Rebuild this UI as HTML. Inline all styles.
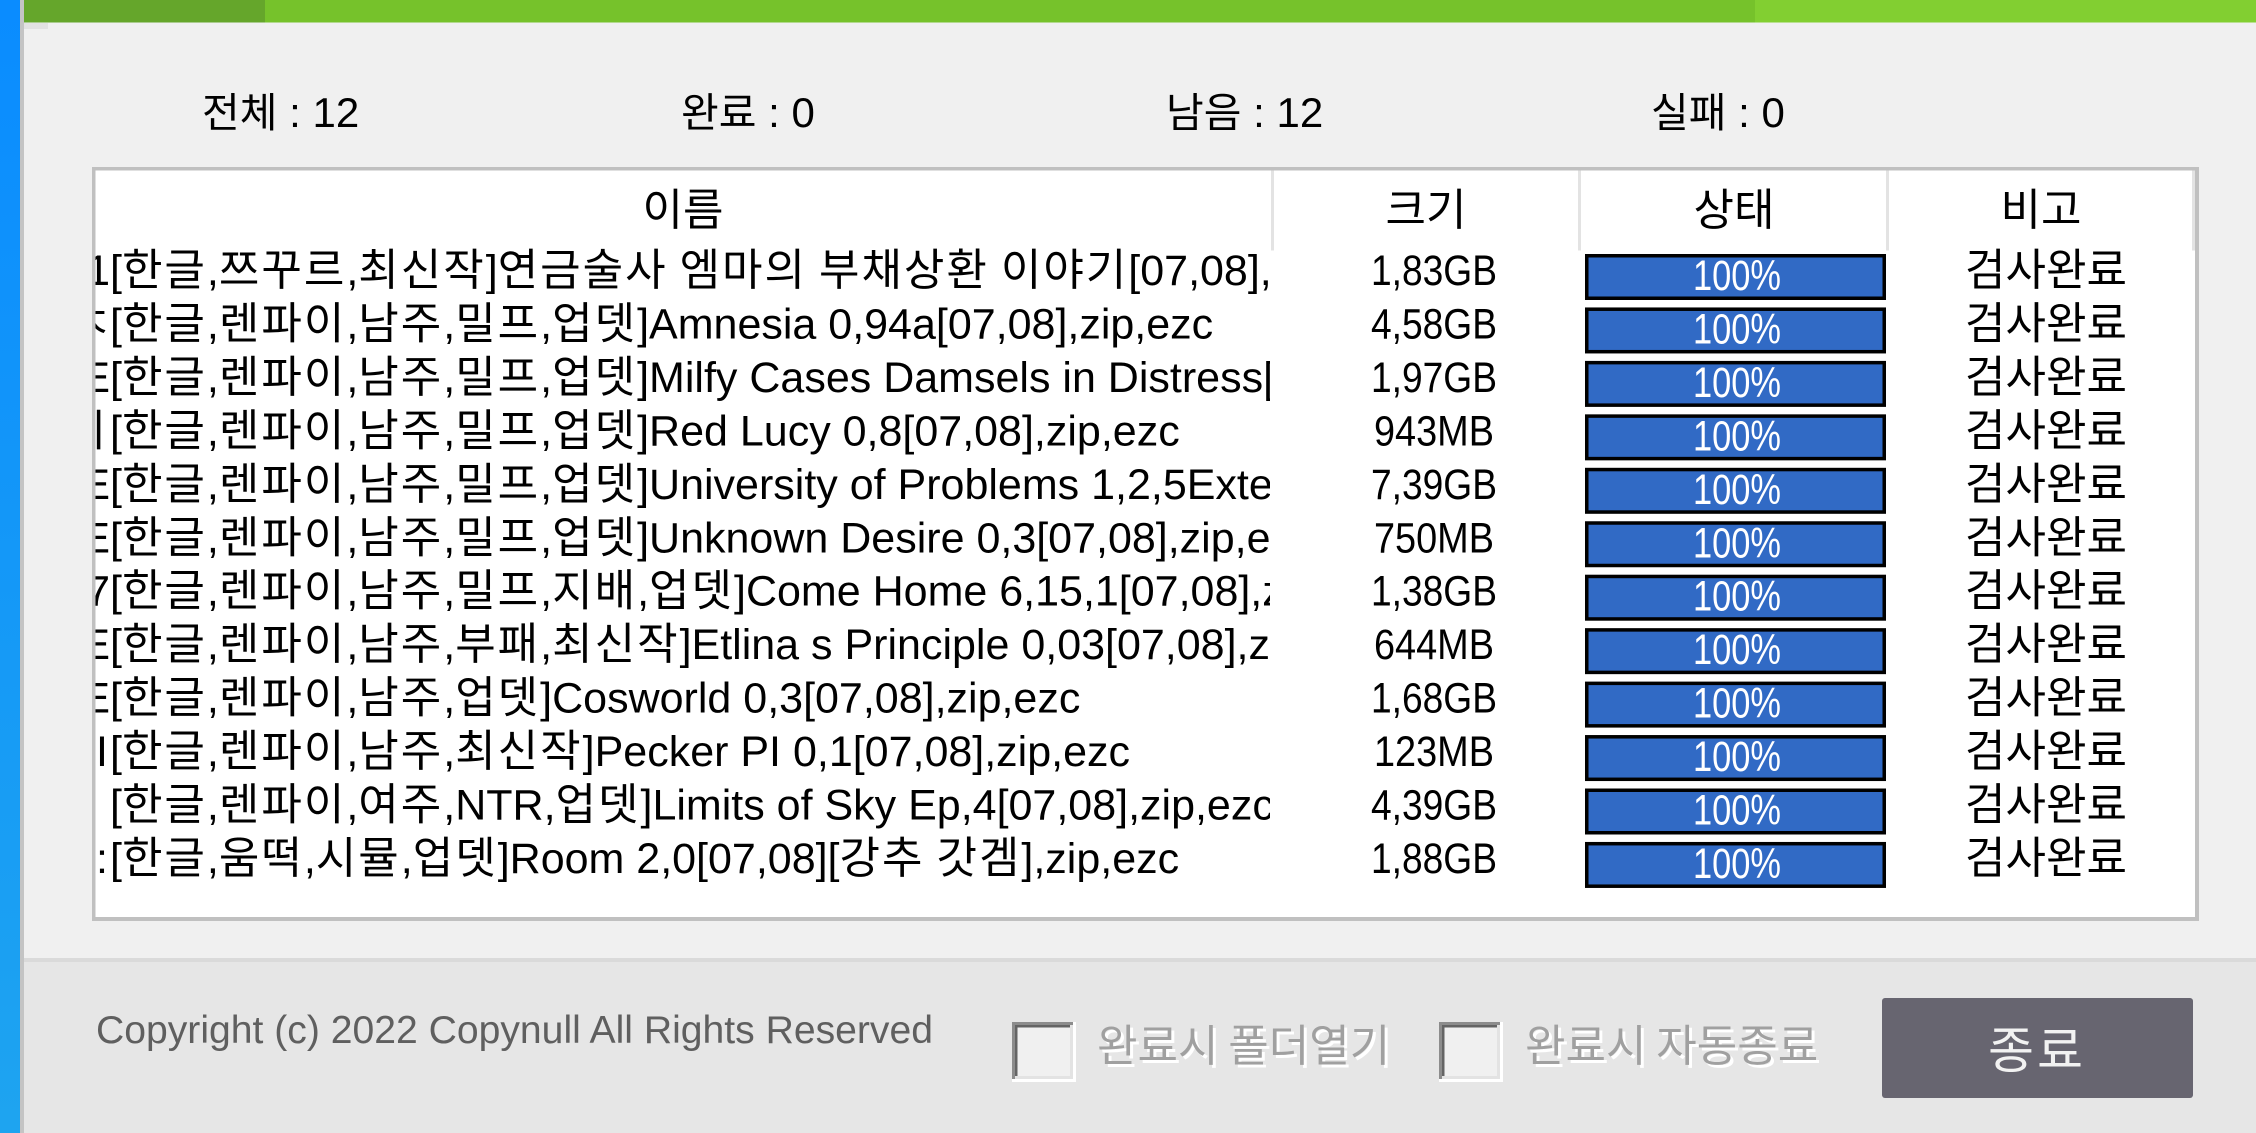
<!DOCTYPE html>
<html><head><meta charset="utf-8">
<style>
html,body{margin:0;padding:0;width:2256px;height:1133px;overflow:hidden;background:#f0f0f0}
svg{display:block}
.k{font-family:"Noto Sans CJK KR","NanumGothic","WenQuanYi Zen Hei",sans-serif;font-size:44px}
.l{font-family:"Liberation Sans",sans-serif;font-size:43px}
.s{font-family:"Liberation Sans","Noto Sans CJK KR",sans-serif;font-size:42px}
#names .k{letter-spacing:2px}
</style></head><body>
<svg width="2256" height="1133" viewBox="0 0 2256 1133" xmlns="http://www.w3.org/2000/svg">
<defs>
<linearGradient id="bl" x1="0" y1="0" x2="0" y2="1"><stop offset="0" stop-color="#0a8cff"/><stop offset="1" stop-color="#1ea4f0"/></linearGradient>
<clipPath id="nc"><rect x="95.5" y="170" width="1174.5" height="747"/></clipPath>
</defs>
<rect width="2256" height="1133" fill="#f0f0f0"/>
<rect x="0" y="0" width="20" height="1133" fill="url(#bl)"/>
<rect x="20" y="0" width="4" height="1133" fill="#c4c4c4"/>
<rect x="24" y="0" width="241" height="22.5" fill="#65a62b"/>
<rect x="265" y="0" width="1490" height="22.5" fill="#76c22b"/>
<rect x="1755" y="0" width="501" height="22.5" fill="#82cf31"/>
<rect x="24" y="23" width="24" height="6" fill="#e2e2e2"/>

<!-- stats -->
<text y="127" fill="#000"><tspan x="202" class="k" style="font-size:41px">전체</tspan><tspan class="s"> : 12</tspan></text>
<text y="127" fill="#000"><tspan x="681" class="k" style="font-size:41px">완료</tspan><tspan class="s"> : 0</tspan></text>
<text y="127" fill="#000"><tspan x="1166" class="k" style="font-size:41px">남음</tspan><tspan class="s"> : 12</tspan></text>
<text y="127" fill="#000"><tspan x="1651" class="k" style="font-size:41px">실패</tspan><tspan class="s"> : 0</tspan></text>

<!-- table -->
<rect x="92" y="167" width="2107" height="754" fill="#c0c0c0"/>
<rect x="95.5" y="170.5" width="2099.5" height="746.5" fill="#ffffff"/>
<rect x="1271" y="170.5" width="3" height="80" fill="#e3e3e3"/>
<rect x="1578" y="170.5" width="3" height="80" fill="#e3e3e3"/>
<rect x="1886" y="170.5" width="3" height="80" fill="#e3e3e3"/>
<rect x="2192" y="170.5" width="3" height="80" fill="#e3e3e3"/>

<text class="k" x="683" y="225" text-anchor="middle" fill="#000">이름</text>
<text class="k" x="1426" y="225" text-anchor="middle" fill="#000">크기</text>
<text class="k" x="1734" y="225" text-anchor="middle" fill="#000">상태</text>
<text class="k" x="2041" y="225" text-anchor="middle" fill="#000">비고</text>

<g id="names" clip-path="url(#nc)" fill="#000">
<text class="l" x="110" y="285" text-anchor="end">1</text>
<text class="l" x="110" y="285">[<tspan class="k">한글</tspan>,<tspan class="k">쯔꾸르</tspan>,<tspan class="k">최신작</tspan>]<tspan class="k">연금술사</tspan> <tspan class="k">엠마의</tspan> <tspan class="k">부채상환</tspan> <tspan class="k">이야기</tspan>[07,08],zip,ezc</text>

<text class="k" x="112" y="338.45" text-anchor="end" style="letter-spacing:0">ㅈ</text>
<text class="l" x="110" y="338.45">[<tspan class="k">한글</tspan>,<tspan class="k">렌파이</tspan>,<tspan class="k">남주</tspan>,<tspan class="k">밀프</tspan>,<tspan class="k">업뎃</tspan>]Amnesia 0,94a[07,08],zip,ezc</text>

<text class="l" x="110" y="391.9" text-anchor="end">E</text>
<text class="l" x="110" y="391.9">[<tspan class="k">한글</tspan>,<tspan class="k">렌파이</tspan>,<tspan class="k">남주</tspan>,<tspan class="k">밀프</tspan>,<tspan class="k">업뎃</tspan>]Milfy Cases Damsels in Distress[07,08],zip,ezc</text>

<text class="k" x="112" y="445.35" text-anchor="end" style="letter-spacing:0">ㅔ</text>
<text class="l" x="110" y="445.35">[<tspan class="k">한글</tspan>,<tspan class="k">렌파이</tspan>,<tspan class="k">남주</tspan>,<tspan class="k">밀프</tspan>,<tspan class="k">업뎃</tspan>]Red Lucy 0,8[07,08],zip,ezc</text>

<text class="l" x="110" y="498.8" text-anchor="end">E</text>
<text class="l" x="110" y="498.8">[<tspan class="k">한글</tspan>,<tspan class="k">렌파이</tspan>,<tspan class="k">남주</tspan>,<tspan class="k">밀프</tspan>,<tspan class="k">업뎃</tspan>]University of Problems 1,2,5Extended[07,08],zip,ezc</text>

<text class="l" x="110" y="552.25" text-anchor="end">E</text>
<text class="l" x="110" y="552.25">[<tspan class="k">한글</tspan>,<tspan class="k">렌파이</tspan>,<tspan class="k">남주</tspan>,<tspan class="k">밀프</tspan>,<tspan class="k">업뎃</tspan>]Unknown Desire 0,3[07,08],zip,ezc</text>

<text class="l" x="110" y="605.7" text-anchor="end">7</text>
<text class="l" x="110" y="605.7">[<tspan class="k">한글</tspan>,<tspan class="k">렌파이</tspan>,<tspan class="k">남주</tspan>,<tspan class="k">밀프</tspan>,<tspan class="k">지배</tspan>,<tspan class="k">업뎃</tspan>]Come Home 6,15,1[07,08],zip,ezc</text>

<text class="l" x="110" y="659.15" text-anchor="end">E</text>
<text class="l" x="110" y="659.15">[<tspan class="k">한글</tspan>,<tspan class="k">렌파이</tspan>,<tspan class="k">남주</tspan>,<tspan class="k">부패</tspan>,<tspan class="k">최신작</tspan>]Etlina s Principle 0,03[07,08],zip,ezc</text>

<text class="l" x="110" y="712.6" text-anchor="end">E</text>
<text class="l" x="110" y="712.6">[<tspan class="k">한글</tspan>,<tspan class="k">렌파이</tspan>,<tspan class="k">남주</tspan>,<tspan class="k">업뎃</tspan>]Cosworld 0,3[07,08],zip,ezc</text>

<text class="l" x="108" y="766.05" text-anchor="end">I</text>
<text class="l" x="110" y="766.05">[<tspan class="k">한글</tspan>,<tspan class="k">렌파이</tspan>,<tspan class="k">남주</tspan>,<tspan class="k">최신작</tspan>]Pecker PI 0,1[07,08],zip,ezc</text>

<text class="l" x="110" y="819.5">[<tspan class="k">한글</tspan>,<tspan class="k">렌파이</tspan>,<tspan class="k">여주</tspan>,NTR,<tspan class="k">업뎃</tspan>]Limits of Sky Ep,4[07,08],zip,ezc</text>

<text class="l" x="108" y="872.95" text-anchor="end">:</text>
<text class="l" x="110" y="872.95">[<tspan class="k">한글</tspan>,<tspan class="k">움떡</tspan>,<tspan class="k">시뮬</tspan>,<tspan class="k">업뎃</tspan>]Room 2,0[07,08][<tspan class="k">강추</tspan> <tspan class="k">갓겜</tspan>],zip,ezc</text>
</g>

<!-- size column -->
<g class="l" fill="#000" text-anchor="middle">
<text x="1434" y="285" textLength="126" lengthAdjust="spacingAndGlyphs">1,83GB</text>
<text x="1434" y="338.45" textLength="126" lengthAdjust="spacingAndGlyphs">4,58GB</text>
<text x="1434" y="391.9" textLength="126" lengthAdjust="spacingAndGlyphs">1,97GB</text>
<text x="1434" y="445.35" textLength="120" lengthAdjust="spacingAndGlyphs">943MB</text>
<text x="1434" y="498.8" textLength="126" lengthAdjust="spacingAndGlyphs">7,39GB</text>
<text x="1434" y="552.25" textLength="120" lengthAdjust="spacingAndGlyphs">750MB</text>
<text x="1434" y="605.7" textLength="126" lengthAdjust="spacingAndGlyphs">1,38GB</text>
<text x="1434" y="659.15" textLength="120" lengthAdjust="spacingAndGlyphs">644MB</text>
<text x="1434" y="712.6" textLength="126" lengthAdjust="spacingAndGlyphs">1,68GB</text>
<text x="1434" y="766.05" textLength="120" lengthAdjust="spacingAndGlyphs">123MB</text>
<text x="1434" y="819.5" textLength="126" lengthAdjust="spacingAndGlyphs">4,39GB</text>
<text x="1434" y="872.95" textLength="126" lengthAdjust="spacingAndGlyphs">1,88GB</text>
</g>

<!-- progress bars -->
<g id="bar0">
<rect x="1585" y="254" width="301" height="46" fill="#000"/>
<rect x="1588.5" y="257.5" width="294" height="39" fill="#316ac5"/>
<text class="l" x="1737" y="290" text-anchor="middle" fill="#fff" textLength="88" lengthAdjust="spacingAndGlyphs">100%</text>
</g>
<use href="#bar0" transform="translate(0,53.45)"/>
<use href="#bar0" transform="translate(0,106.9)"/>
<use href="#bar0" transform="translate(0,160.35)"/>
<use href="#bar0" transform="translate(0,213.8)"/>
<use href="#bar0" transform="translate(0,267.25)"/>
<use href="#bar0" transform="translate(0,320.7)"/>
<use href="#bar0" transform="translate(0,374.15)"/>
<use href="#bar0" transform="translate(0,427.6)"/>
<use href="#bar0" transform="translate(0,481.05)"/>
<use href="#bar0" transform="translate(0,534.5)"/>
<use href="#bar0" transform="translate(0,587.95)"/>

<!-- remark column -->
<g class="k" fill="#000" text-anchor="middle">
<text x="2046" y="285">검사완료</text>
<text x="2046" y="338.45">검사완료</text>
<text x="2046" y="391.9">검사완료</text>
<text x="2046" y="445.35">검사완료</text>
<text x="2046" y="498.8">검사완료</text>
<text x="2046" y="552.25">검사완료</text>
<text x="2046" y="605.7">검사완료</text>
<text x="2046" y="659.15">검사완료</text>
<text x="2046" y="712.6">검사완료</text>
<text x="2046" y="766.05">검사완료</text>
<text x="2046" y="819.5">검사완료</text>
<text x="2046" y="872.95">검사완료</text>
</g>

<!-- bottom panel -->
<rect x="24" y="958" width="2232" height="4" fill="#dadada"/>
<rect x="24" y="962" width="2232" height="171" fill="#e6e6e6"/>

<text x="96" y="1043" fill="#5f5f5f" style="font-family:'Liberation Sans',sans-serif;font-size:39px" textLength="837" lengthAdjust="spacingAndGlyphs">Copyright (c) 2022 Copynull All Rights Reserved</text>

<!-- checkbox 1 -->
<rect x="1012" y="1022" width="64" height="60" fill="#ffffff"/>
<rect x="1012" y="1022" width="61" height="57" fill="#8c8c8c"/>
<rect x="1015" y="1025" width="58" height="54" fill="#e3e3e3"/>
<rect x="1015" y="1025" width="55" height="51" fill="#646464"/>
<rect x="1017.5" y="1027.5" width="52.5" height="48.5" fill="#f0f0f0"/>
<text class="k" x="1100" y="1064" fill="#ffffff">완료시 폴더열기</text>
<text class="k" x="1097" y="1061" fill="#a0a0a0">완료시 폴더열기</text>

<!-- checkbox 2 -->
<rect x="1439" y="1022" width="64" height="60" fill="#ffffff"/>
<rect x="1439" y="1022" width="61" height="57" fill="#8c8c8c"/>
<rect x="1442" y="1025" width="58" height="54" fill="#e3e3e3"/>
<rect x="1442" y="1025" width="55" height="51" fill="#646464"/>
<rect x="1444.5" y="1027.5" width="52.5" height="48.5" fill="#f0f0f0"/>
<text class="k" x="1528" y="1064" fill="#ffffff">완료시 자동종료</text>
<text class="k" x="1525" y="1061" fill="#a0a0a0">완료시 자동종료</text>

<!-- button -->
<rect x="1882" y="998" width="311" height="100" rx="3" fill="#676570"/>
<text x="2037" y="1068" text-anchor="middle" fill="#f2f2f2" style="font-family:'Noto Sans CJK KR','NanumGothic',sans-serif;font-size:50px;letter-spacing:3px">종료</text>
</svg>
</body></html>
